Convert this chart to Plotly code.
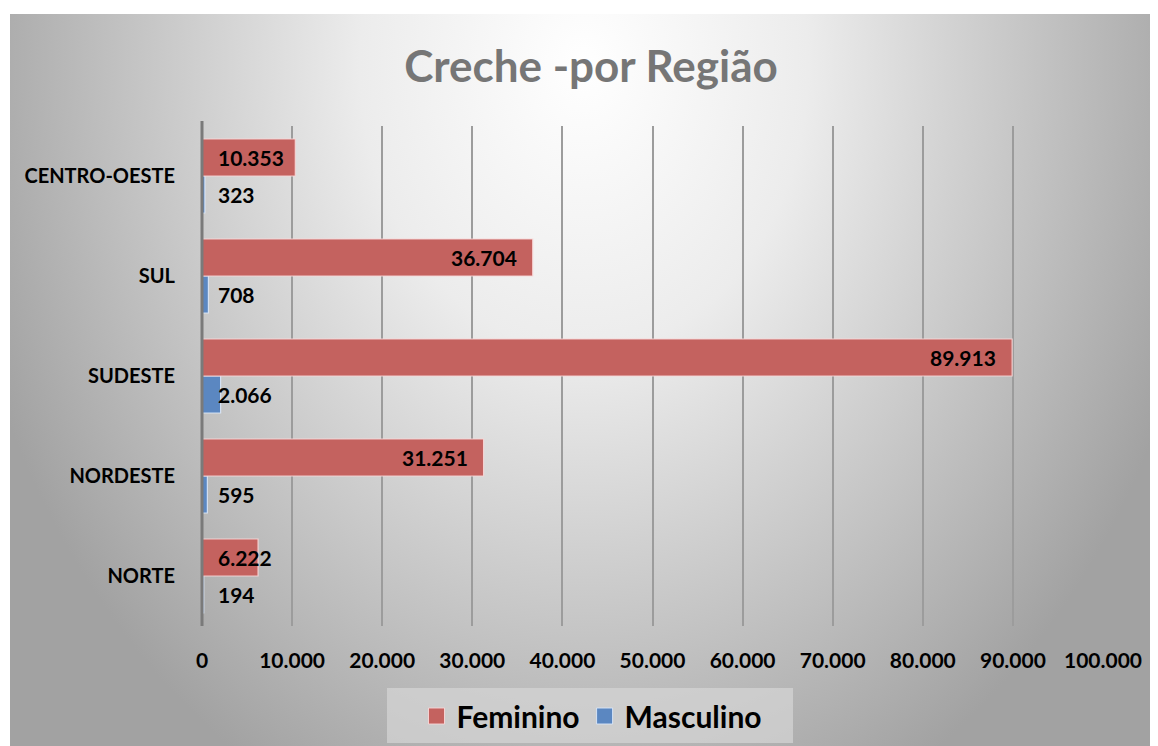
import base64
import plotly.graph_objects as go

regioes = ["NORTE", "NORDESTE", "SUDESTE", "SUL", "CENTRO-OESTE"]
feminino = [6222, 31251, 89913, 36704, 10353]
masculino = [194, 595, 2066, 708, 323]
x_ticks = [0, 10000, 20000, 30000, 40000, 50000, 60000, 70000, 80000, 90000, 100000]

# page body has an 8px margin, so the figure is drawn 8px smaller / shifted
OFF = 8
W, H = 1158 - OFF, 746 - OFF
L, R, T, B = 202 - OFF, 55, 126 - OFF, 120
PW, PH = W - L - R, H - T - B

RED = "#C4625F"
BLUE = "#5B87C1"
FONT = "Lato"


def px_x(page_x):
    return (page_x - OFF - L) / PW


def px_y(page_y):
    return (H - B - (page_y - OFF)) / PH


def fmt(v):
    return f"{v:,}".replace(",", ".")


svg = (
    '<svg xmlns="http://www.w3.org/2000/svg" width="1148" height="732">'
    '<defs><radialGradient id="g" gradientUnits="userSpaceOnUse" cx="0" cy="0" r="1" '
    'gradientTransform="translate(574,50) scale(640,820)">'
    '<stop offset="0" stop-color="#ffffff"/>'
    '<stop offset="0.35" stop-color="#ececec"/>'
    '<stop offset="1" stop-color="#a2a2a2"/>'
    '</radialGradient></defs>'
    '<rect width="1148" height="732" fill="url(#g)"/></svg>'
)
bg_src = "data:image/svg+xml;base64," + base64.b64encode(svg.encode()).decode()

fig = go.Figure()
fig.add_trace(go.Bar(
    name="Masculino", y=regioes, x=masculino, orientation="h", showlegend=False,
    marker=dict(color=BLUE, line=dict(color="rgba(220,232,248,0.9)", width=1.2)),
    hoverinfo="x+y",
))
fig.add_trace(go.Bar(
    name="Feminino", y=regioes, x=feminino, orientation="h", showlegend=False,
    marker=dict(color=RED, line=dict(color="rgba(248,215,215,0.9)", width=1.2)),
    hoverinfo="x+y",
))
# legend entries
fig.add_trace(go.Scatter(
    name="Feminino", x=[None], y=[None], mode="markers",
    marker=dict(symbol="square", size=17, color=RED, line=dict(color="rgba(248,215,215,0.9)", width=1)),
))
fig.add_trace(go.Scatter(
    name="Masculino", x=[None], y=[None], mode="markers",
    marker=dict(symbol="square", size=17, color=BLUE, line=dict(color="rgba(220,232,248,0.9)", width=1)),
))

annotations = []
lab_font = dict(family=FONT, size=21, color="#000000", weight="bold")
for i, r in enumerate(regioes):
    v = feminino[i]
    if v < 15000:
        annotations.append(dict(x=0, y=i, xref="x", yref="y", text=fmt(v), showarrow=False,
                                xanchor="left", xshift=14, yshift=19, font=lab_font))
    else:
        annotations.append(dict(x=v, y=i, xref="x", yref="y", text=fmt(v), showarrow=False,
                                xanchor="right", xshift=-14, yshift=19, font=lab_font))
    m = masculino[i]
    annotations.append(dict(x=0, y=i, xref="x", yref="y", text=fmt(m), showarrow=False,
                            xanchor="left", xshift=14, yshift=-18, font=lab_font))

fig.update_layout(
    width=W, height=H,
    margin=dict(l=L, r=R, t=T, b=B),
    paper_bgcolor="#ffffff",
    plot_bgcolor="rgba(0,0,0,0)",
    separators=",.",
    barmode="group",
    bargap=0.26,
    bargroupgap=0,
    showlegend=True,
    title=dict(text="Creche -por Região", x=(591 - OFF) / W, xanchor="center", xref="container",
               y=1 - (67 - OFF) / H, yanchor="middle", yref="container",
               font=dict(family=FONT, size=44, color="#767676", weight="bold")),
    legend=dict(orientation="h", traceorder="normal",
                xref="container", yref="container",
                x=(592 - OFF) / W, xanchor="center", y=1 - (716 - OFF) / H, yanchor="middle",
                bgcolor="rgba(0,0,0,0)",
                font=dict(family=FONT, size=30, color="#000000", weight="bold"),
                itemwidth=30),
    xaxis=dict(range=[0, 100000], tickvals=x_ticks, tickformat=",d",
               showgrid=True, gridcolor="#9c9c9c", gridwidth=1.5,
               zeroline=False, showline=False,
               ticks="outside", ticklen=16, tickcolor="rgba(0,0,0,0)",
               tickfont=dict(family=FONT, size=21, color="#000000", weight="bold"),
               fixedrange=True),
    yaxis=dict(range=[-0.5, 4.5], showgrid=False, zeroline=False,
               showline=False,
               ticks="outside", ticklen=22, tickcolor="rgba(0,0,0,0)",
               tickfont=dict(family=FONT, size=20, color="#000000", weight="bold"),
               fixedrange=True),
    annotations=annotations,
    images=[dict(source=bg_src, xref="paper", yref="paper",
                 x=px_x(10), y=px_y(14),
                 sizex=1148 / PW, sizey=732 / PH,
                 xanchor="left", yanchor="top", sizing="stretch", layer="below")],
    shapes=[
        dict(type="rect", xref="paper", yref="paper",
             x0=px_x(387), x1=px_x(793),
             y0=px_y(743), y1=px_y(688),
             fillcolor="rgba(214,214,214,0.7)", line=dict(width=0), layer="below"),
        dict(type="line", xref="paper", yref="paper", x0=0, x1=0, y0=0, y1=1.01,
             line=dict(color="#7a7a7a", width=3), layer="above"),
    ],
)

fig.write_html("out.html")
